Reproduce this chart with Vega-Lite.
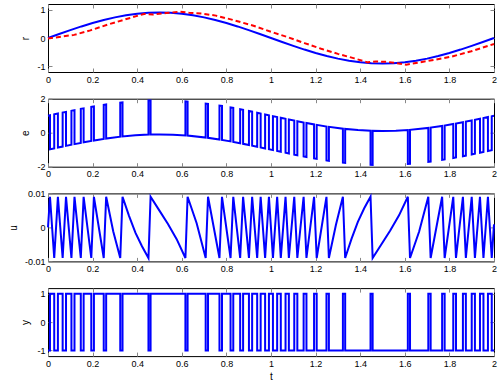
{
"$schema":"https://vega.github.io/schema/vega-lite/v6.json",
"padding":{"left":7,"top":3,"right":5,"bottom":4},
"spacing":26.7,
"bounds":"flush",
"config":{"font":"Liberation Sans","view":{"stroke":"#000","strokeWidth":1},
"axis":{"labelFont":"Liberation Sans","labelFontSize":9,"labelColor":"#000","titleFont":"Liberation Sans","titleFontSize":10,"titleFontWeight":"normal","titleColor":"#000","domain":false,"grid":false,"tickSize":-4,"tickColor":"#888","labelPadding":7,"labelFlush":false,"labelOverlap":false,"format":"~g","labelExpr":"replace(datum.label,'−','-')","titlePadding":6}},
"datasets":{
"r":[{"t":0,"v":0},{"t":0.05,"v":0.1408},{"t":0.1,"v":0.2781},{"t":0.15,"v":0.4086},{"t":0.2,"v":0.529},{"t":0.25,"v":0.6364},{"t":0.3,"v":0.7281},{"t":0.35,"v":0.8019},{"t":0.4,"v":0.856},{"t":0.45,"v":0.8889},{"t":0.5,"v":0.9},{"t":0.55,"v":0.8889},{"t":0.6,"v":0.856},{"t":0.65,"v":0.8019},{"t":0.7,"v":0.7281},{"t":0.75,"v":0.6364},{"t":0.8,"v":0.529},{"t":0.85,"v":0.4086},{"t":0.9,"v":0.2781},{"t":0.95,"v":0.1408},{"t":1,"v":0},{"t":1.05,"v":-0.1408},{"t":1.1,"v":-0.2781},{"t":1.15,"v":-0.4086},{"t":1.2,"v":-0.529},{"t":1.25,"v":-0.6364},{"t":1.3,"v":-0.7281},{"t":1.35,"v":-0.8019},{"t":1.4,"v":-0.856},{"t":1.45,"v":-0.8889},{"t":1.5,"v":-0.9},{"t":1.55,"v":-0.8889},{"t":1.6,"v":-0.856},{"t":1.65,"v":-0.8019},{"t":1.7,"v":-0.7281},{"t":1.75,"v":-0.6364},{"t":1.8,"v":-0.529},{"t":1.85,"v":-0.4086},{"t":1.9,"v":-0.2781},{"t":1.95,"v":-0.1408},{"t":2,"v":0}],
"rh":[{"t":0,"v":-0.02},{"t":0.06,"v":0.05},{"t":0.117,"v":0.11},{"t":0.19,"v":0.27},{"t":0.267,"v":0.47},{"t":0.356,"v":0.68},{"t":0.4,"v":0.78},{"t":0.43,"v":0.85},{"t":0.47,"v":0.83},{"t":0.53,"v":0.88},{"t":0.59,"v":0.93},{"t":0.633,"v":0.89},{"t":0.693,"v":0.86},{"t":0.753,"v":0.79},{"t":0.828,"v":0.64},{"t":0.918,"v":0.44},{"t":1.015,"v":0.18},{"t":1.075,"v":0.03},{"t":1.15,"v":-0.18},{"t":1.225,"v":-0.38},{"t":1.3,"v":-0.56},{"t":1.374,"v":-0.72},{"t":1.434,"v":-0.86},{"t":1.47,"v":-0.83},{"t":1.52,"v":-0.84},{"t":1.554,"v":-0.88},{"t":1.606,"v":-0.94},{"t":1.659,"v":-0.87},{"t":1.733,"v":-0.77},{"t":1.808,"v":-0.66},{"t":1.898,"v":-0.47},{"t":2,"v":-0.21}],
"e":[{"t":0,"v":1},{"t":0.0089,"v":1.0252},{"t":0.0089,"v":-0.9748},{"t":0.0279,"v":-0.9212},{"t":0.0279,"v":1.0788},{"t":0.0444,"v":1.1251},{"t":0.0444,"v":-0.8749},{"t":0.0657,"v":-0.8156},{"t":0.0657,"v":1.1844},{"t":0.0808,"v":1.226},{"t":0.0808,"v":-0.774},{"t":0.1051,"v":-0.7082},{"t":0.1051,"v":1.2918},{"t":0.1188,"v":1.3282},{"t":0.1188,"v":-0.6718},{"t":0.1471,"v":-0.5987},{"t":0.1471,"v":1.4013},{"t":0.1598,"v":1.4331},{"t":0.1598,"v":-0.5669},{"t":0.1941,"v":-0.4845},{"t":0.1941,"v":1.5155},{"t":0.2059,"v":1.5423},{"t":0.2059,"v":-0.4577},{"t":0.2499,"v":-0.3638},{"t":0.2499,"v":1.6362},{"t":0.2608,"v":1.6576},{"t":0.2608,"v":-0.3424},{"t":0.324,"v":-0.2344},{"t":0.324,"v":1.7656},{"t":0.3342,"v":1.7805},{"t":0.3342,"v":-0.2195},{"t":0.392,"v":-0.1512},{"t":0.4505,"v":-0.1108},{"t":0.4505,"v":1.8892},{"t":0.46,"v":1.8929},{"t":0.46,"v":-0.1071},{"t":0.5,"v":-0.1},{"t":0.56,"v":-0.1159},{"t":0.6162,"v":-0.159},{"t":0.6162,"v":1.841},{"t":0.626,"v":1.8305},{"t":0.626,"v":-0.1695},{"t":0.7071,"v":-0.2836},{"t":0.7071,"v":1.7164},{"t":0.7176,"v":1.6976},{"t":0.7176,"v":-0.3024},{"t":0.7689,"v":-0.4028},{"t":0.7689,"v":1.5972},{"t":0.7802,"v":1.5735},{"t":0.7802,"v":-0.4265},{"t":0.8186,"v":-0.5139},{"t":0.8186,"v":1.4861},{"t":0.8308,"v":1.4567},{"t":0.8308,"v":-0.5433},{"t":0.8617,"v":-0.6213},{"t":0.8617,"v":1.3787},{"t":0.8749,"v":1.3441},{"t":0.8749,"v":-0.6559},{"t":0.9011,"v":-0.7248},{"t":0.9011,"v":1.2752},{"t":0.9154,"v":1.2364},{"t":0.9154,"v":-0.7636},{"t":0.938,"v":-0.8258},{"t":0.938,"v":1.1742},{"t":0.9536,"v":1.1307},{"t":0.9536,"v":-0.8693},{"t":0.9736,"v":-0.9254},{"t":0.9736,"v":1.0746},{"t":0.9907,"v":1.0263},{"t":0.9907,"v":-0.9737},{"t":1.0087,"v":-1.0246},{"t":1.0087,"v":0.9754},{"t":1.0276,"v":0.9221},{"t":1.0276,"v":-1.0779},{"t":1.0439,"v":-1.1237},{"t":1.0439,"v":0.8763},{"t":1.0652,"v":0.8169},{"t":1.0652,"v":-1.1831},{"t":1.0801,"v":-1.2241},{"t":1.0801,"v":0.7759},{"t":1.1043,"v":0.7103},{"t":1.1043,"v":-1.2897},{"t":1.1181,"v":-1.3263},{"t":1.1181,"v":0.6737},{"t":1.1463,"v":0.6007},{"t":1.1463,"v":-1.3993},{"t":1.159,"v":-1.4311},{"t":1.159,"v":0.5689},{"t":1.1931,"v":0.4869},{"t":1.1931,"v":-1.5131},{"t":1.2049,"v":-1.54},{"t":1.2049,"v":0.46},{"t":1.2487,"v":0.3662},{"t":1.2487,"v":-1.6338},{"t":1.2596,"v":-1.6553},{"t":1.2596,"v":0.3447},{"t":1.3224,"v":0.2368},{"t":1.3224,"v":-1.7632},{"t":1.3326,"v":-1.7782},{"t":1.3326,"v":0.2218},{"t":1.39,"v":0.1532},{"t":1.4463,"v":0.1128},{"t":1.4463,"v":-1.8872},{"t":1.4558,"v":-1.8913},{"t":1.4558,"v":0.1087},{"t":1.5,"v":0.1},{"t":1.56,"v":0.1159},{"t":1.6136,"v":0.1564},{"t":1.6136,"v":-1.8436},{"t":1.6234,"v":-1.8334},{"t":1.6234,"v":0.1666},{"t":1.7054,"v":0.2806},{"t":1.7054,"v":-1.7194},{"t":1.7159,"v":-1.7007},{"t":1.7159,"v":0.2993},{"t":1.7674,"v":0.3996},{"t":1.7674,"v":-1.6004},{"t":1.7787,"v":-1.5767},{"t":1.7787,"v":0.4233},{"t":1.8173,"v":0.5108},{"t":1.8173,"v":-1.4892},{"t":1.8295,"v":-1.4599},{"t":1.8295,"v":0.5401},{"t":1.8606,"v":0.6185},{"t":1.8606,"v":-1.3815},{"t":1.8738,"v":-1.347},{"t":1.8738,"v":0.653},{"t":1.9001,"v":0.7222},{"t":1.9001,"v":-1.2778},{"t":1.9144,"v":-1.2391},{"t":1.9144,"v":0.7609},{"t":1.9371,"v":0.8233},{"t":1.9371,"v":-1.1767},{"t":1.9527,"v":-1.1332},{"t":1.9527,"v":0.8668},{"t":1.9728,"v":0.9232},{"t":1.9728,"v":-1.0768},{"t":1.9899,"v":-1.0286},{"t":1.9899,"v":0.9714},{"t":2,"v":1}],
"u":[{"t":0,"v":0},{"t":0.0089,"v":0.009},{"t":0.0279,"v":-0.009},{"t":0.0444,"v":0.009},{"t":0.0657,"v":-0.009},{"t":0.0808,"v":0.009},{"t":0.1051,"v":-0.009},{"t":0.1188,"v":0.009},{"t":0.1471,"v":-0.009},{"t":0.1598,"v":0.009},{"t":0.1941,"v":-0.009},{"t":0.2059,"v":0.009},{"t":0.2499,"v":-0.009},{"t":0.2608,"v":0.009},{"t":0.2924,"v":-0.00114},{"t":0.324,"v":-0.009},{"t":0.3342,"v":0.009},{"t":0.3633,"v":0.00339},{"t":0.3924,"v":-0.00162},{"t":0.4214,"v":-0.00555},{"t":0.4505,"v":-0.009},{"t":0.46,"v":0.009},{"t":0.499,"v":0.00501},{"t":0.538,"v":0.00099},{"t":0.577,"v":-0.00346},{"t":0.6162,"v":-0.009},{"t":0.626,"v":0.009},{"t":0.6666,"v":0.00123},{"t":0.7071,"v":-0.009},{"t":0.7176,"v":0.009},{"t":0.7689,"v":-0.009},{"t":0.7802,"v":0.009},{"t":0.8186,"v":-0.009},{"t":0.8308,"v":0.009},{"t":0.8617,"v":-0.009},{"t":0.8749,"v":0.009},{"t":0.9011,"v":-0.009},{"t":0.9154,"v":0.009},{"t":0.938,"v":-0.009},{"t":0.9536,"v":0.009},{"t":0.9736,"v":-0.009},{"t":0.9907,"v":0.009},{"t":1.0087,"v":-0.009},{"t":1.0276,"v":0.009},{"t":1.0439,"v":-0.009},{"t":1.0652,"v":0.009},{"t":1.0801,"v":-0.009},{"t":1.1043,"v":0.009},{"t":1.1181,"v":-0.009},{"t":1.1463,"v":0.009},{"t":1.159,"v":-0.009},{"t":1.1931,"v":0.009},{"t":1.2049,"v":-0.009},{"t":1.2487,"v":0.009},{"t":1.2596,"v":-0.009},{"t":1.291,"v":0.00071},{"t":1.3224,"v":0.009},{"t":1.3326,"v":-0.009},{"t":1.361,"v":-0.00338},{"t":1.3895,"v":0.00163},{"t":1.418,"v":0.00561},{"t":1.4463,"v":0.009},{"t":1.4558,"v":-0.009},{"t":1.4953,"v":-0.00494},{"t":1.5347,"v":-0.00092},{"t":1.5742,"v":0.00355},{"t":1.6136,"v":0.009},{"t":1.6234,"v":-0.009},{"t":1.6644,"v":-0.0012},{"t":1.7054,"v":0.009},{"t":1.7159,"v":-0.009},{"t":1.7674,"v":0.009},{"t":1.7787,"v":-0.009},{"t":1.8173,"v":0.009},{"t":1.8295,"v":-0.009},{"t":1.8606,"v":0.009},{"t":1.8738,"v":-0.009},{"t":1.9001,"v":0.009},{"t":1.9144,"v":-0.009},{"t":1.9371,"v":0.009},{"t":1.9527,"v":-0.009},{"t":1.9728,"v":0.009},{"t":1.9899,"v":-0.009},{"t":2,"v":0.0009}],
"y":[{"t":0,"v":-1},{"t":0.0089,"v":1},{"t":0.0279,"v":-1},{"t":0.0444,"v":1},{"t":0.0657,"v":-1},{"t":0.0808,"v":1},{"t":0.1051,"v":-1},{"t":0.1188,"v":1},{"t":0.1471,"v":-1},{"t":0.1598,"v":1},{"t":0.1941,"v":-1},{"t":0.2059,"v":1},{"t":0.2499,"v":-1},{"t":0.2608,"v":1},{"t":0.324,"v":-1},{"t":0.3342,"v":1},{"t":0.4505,"v":-1},{"t":0.46,"v":1},{"t":0.6162,"v":-1},{"t":0.626,"v":1},{"t":0.7071,"v":-1},{"t":0.7176,"v":1},{"t":0.7689,"v":-1},{"t":0.7802,"v":1},{"t":0.8186,"v":-1},{"t":0.8308,"v":1},{"t":0.8617,"v":-1},{"t":0.8749,"v":1},{"t":0.9011,"v":-1},{"t":0.9154,"v":1},{"t":0.938,"v":-1},{"t":0.9536,"v":1},{"t":0.9736,"v":-1},{"t":0.9907,"v":1},{"t":1.0087,"v":-1},{"t":1.0276,"v":1},{"t":1.0439,"v":-1},{"t":1.0652,"v":1},{"t":1.0801,"v":-1},{"t":1.1043,"v":1},{"t":1.1181,"v":-1},{"t":1.1463,"v":1},{"t":1.159,"v":-1},{"t":1.1931,"v":1},{"t":1.2049,"v":-1},{"t":1.2487,"v":1},{"t":1.2596,"v":-1},{"t":1.3224,"v":1},{"t":1.3326,"v":-1},{"t":1.4463,"v":1},{"t":1.4558,"v":-1},{"t":1.6136,"v":1},{"t":1.6234,"v":-1},{"t":1.7054,"v":1},{"t":1.7159,"v":-1},{"t":1.7674,"v":1},{"t":1.7787,"v":-1},{"t":1.8173,"v":1},{"t":1.8295,"v":-1},{"t":1.8606,"v":1},{"t":1.8738,"v":-1},{"t":1.9001,"v":1},{"t":1.9144,"v":-1},{"t":1.9371,"v":1},{"t":1.9527,"v":-1},{"t":1.9728,"v":1},{"t":1.9899,"v":-1},{"t":2,"v":-1}]
},
"vconcat":[
{"width":446,"height":68,"layer":[
 {"data":{"name":"r"},"mark":{"type":"line","color":"#0000ff","strokeWidth":2},
  "encoding":{"x":{"field":"t","type":"quantitative","scale":{"domain":[0,2],"nice":false},"axis":{"values":[0,0.2,0.4,0.6,0.8,1,1.2,1.4,1.6,1.8,2],"title":null}},
   "y":{"field":"v","type":"quantitative","scale":{"domain":[-1.2,1.2],"nice":false,"zero":false},"axis":{"values":[-1,0,1],"title":"r"}}}},
 {"data":{"name":"rh"},"mark":{"type":"line","color":"#ff0000","strokeWidth":2,"strokeDash":[5,3]},
  "encoding":{"x":{"field":"t","type":"quantitative","scale":{"domain":[0,2],"nice":false},"axis":null},
   "y":{"field":"v","type":"quantitative","scale":{"domain":[-1.2,1.2],"nice":false,"zero":false},"axis":null}}},
 {"data":{"name":"r"},"mark":{"type":"line","opacity":0},
  "encoding":{"x":{"field":"t","type":"quantitative","scale":{"domain":[0,2],"nice":false},"axis":{"orient":"top","values":[0,0.2,0.4,0.6,0.8,1,1.2,1.4,1.6,1.8,2],"labels":false,"title":null}},
   "y":{"field":"v","type":"quantitative","scale":{"domain":[-1.2,1.2],"nice":false,"zero":false},"axis":{"orient":"right","values":[-1,0,1],"labels":false,"title":null}}}}
 ],"resolve":{"scale":{"x":"independent","y":"independent"}}},
{"width":446,"height":68,"layer":[
 {"data":{"name":"e"},"mark":{"type":"line","color":"#0000ff","strokeWidth":2},
  "encoding":{"x":{"field":"t","type":"quantitative","scale":{"domain":[0,2],"nice":false},"axis":{"values":[0,0.2,0.4,0.6,0.8,1,1.2,1.4,1.6,1.8,2],"title":null}},
   "y":{"field":"v","type":"quantitative","scale":{"domain":[-2,2],"nice":false,"zero":false},"axis":{"values":[-2,0,2],"title":"e"}},
   "order":{"value":null}}},
 {"data":{"name":"e"},"mark":{"type":"line","opacity":0},
  "encoding":{"x":{"field":"t","type":"quantitative","scale":{"domain":[0,2],"nice":false},"axis":{"orient":"top","values":[0,0.2,0.4,0.6,0.8,1,1.2,1.4,1.6,1.8,2],"labels":false,"title":null}},
   "y":{"field":"v","type":"quantitative","scale":{"domain":[-2,2],"nice":false,"zero":false},"axis":{"orient":"right","values":[-2,0,2],"labels":false,"title":null}}}}
 ],"resolve":{"scale":{"x":"independent","y":"independent"}}},
{"width":446,"height":68,"layer":[
 {"data":{"name":"u"},"mark":{"type":"line","color":"#0000ff","strokeWidth":2},
  "encoding":{"x":{"field":"t","type":"quantitative","scale":{"domain":[0,2],"nice":false},"axis":{"values":[0,0.2,0.4,0.6,0.8,1,1.2,1.4,1.6,1.8,2],"title":null}},
   "y":{"field":"v","type":"quantitative","scale":{"domain":[-0.01,0.01],"nice":false,"zero":false},"axis":{"values":[-0.01,0,0.01],"title":"u"}}}},
 {"data":{"name":"u"},"mark":{"type":"line","opacity":0},
  "encoding":{"x":{"field":"t","type":"quantitative","scale":{"domain":[0,2],"nice":false},"axis":{"orient":"top","values":[0,0.2,0.4,0.6,0.8,1,1.2,1.4,1.6,1.8,2],"labels":false,"title":null}},
   "y":{"field":"v","type":"quantitative","scale":{"domain":[-0.01,0.01],"nice":false,"zero":false},"axis":{"orient":"right","values":[-0.01,0,0.01],"labels":false,"title":null}}}}
 ],"resolve":{"scale":{"x":"independent","y":"independent"}}},
{"width":446,"height":68,"layer":[
 {"data":{"name":"y"},"mark":{"type":"line","color":"#0000ff","strokeWidth":2,"interpolate":"step-after"},
  "encoding":{"x":{"field":"t","type":"quantitative","scale":{"domain":[0,2],"nice":false},"axis":{"values":[0,0.2,0.4,0.6,0.8,1,1.2,1.4,1.6,1.8,2],"title":"t","titlePadding":3}},
   "y":{"field":"v","type":"quantitative","scale":{"domain":[-1.2,1.2],"nice":false,"zero":false},"axis":{"values":[-1,0,1],"title":"y"}}}},
 {"data":{"name":"y"},"mark":{"type":"line","opacity":0},
  "encoding":{"x":{"field":"t","type":"quantitative","scale":{"domain":[0,2],"nice":false},"axis":{"orient":"top","values":[0,0.2,0.4,0.6,0.8,1,1.2,1.4,1.6,1.8,2],"labels":false,"title":null}},
   "y":{"field":"v","type":"quantitative","scale":{"domain":[-1.2,1.2],"nice":false,"zero":false},"axis":{"orient":"right","values":[-1,0,1],"labels":false,"title":null}}}}
 ],"resolve":{"scale":{"x":"independent","y":"independent"}}}
]
}
